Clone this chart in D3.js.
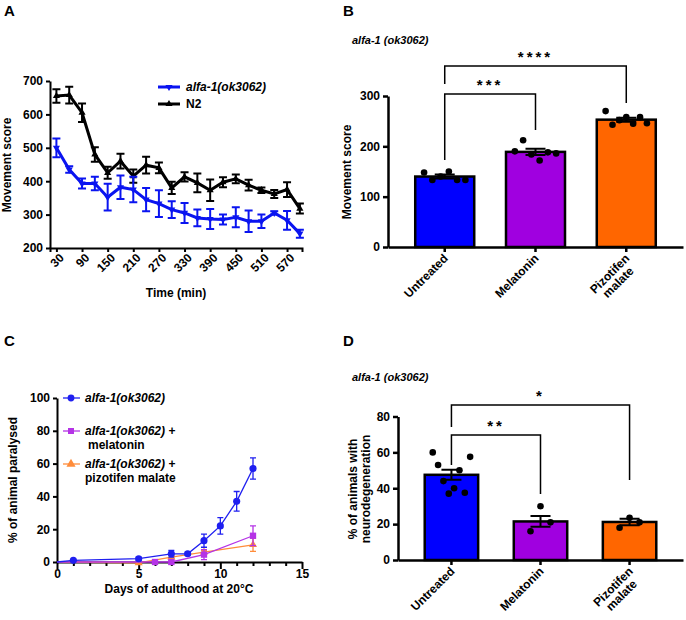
<!DOCTYPE html>
<html><head><meta charset="utf-8">
<script src="https://cdn.jsdelivr.net/npm/d3@7"></script>
<style>
body{margin:0;background:#fff}
text{font-family:"Liberation Sans",Arial,sans-serif;font-weight:bold}
</style></head>
<body><svg id="fig" width="686" height="620"></svg>
<script>
// panel A data
var timesA = d3.range(30, 601, 30)
var n2Mean = [655,658,605,480,425,460,415,448,440,380,413,395,373,397,407,388,373,362,375,318]
var n2Err = [20,25,28,22,18,22,20,25,16,18,14,28,32,15,13,16,8,12,22,15]
var alfaMean = [500,435,393,393,352,382,375,345,333,315,305,290,287,285,292,280,280,305,283,243]
var alfaErr = [28,10,15,20,40,35,38,35,40,25,30,25,30,15,30,32,20,5,28,12]
var ticksA = [30,90,150,210,270,330,390,450,510,570]

// panel B data
var groups = ["Untreated", "Melatonin", "Pizotifen malate"]
var colors = ["#0000ff", "#a000e0", "#ff6600"]
var bMean = [140, 189, 253]
var bErr = [4, 6, 4]
var bDots = [[148,133,140,150,133,133],[190,212,184,172,188,186],[270,243,252,258,245,258,246]]

// panel C data
var cAlfa = [[0,0],[1,1],[5,2],[7,5],[8,5],[9,13],[10,22],[11,37],[12,57]]
var cAlfaErr = [0,0.5,1,2,1,4,5,6,6.5]
var cMel = [[0,0],[6,0],[7,0],[9,4.5],[12,16]]
var cMelErr = [0,0.5,1,3,6]
var cPiz = [[0,0],[5,-0.5],[7,3],[9,6],[12,10.5]]
var cPizErr = [0,0.5,1,1,4]

// panel D data
var dMean = [47.5, 21.5, 21.2]
var dErr = [2.8, 3, 1.8]
var dDots = [[60,53,44,37,40,50,37.5,57.5],[16,30,21],[18,23.5,21]]

var svg = d3.select("#fig")

function label(t, x, y) {
  svg.append("text").attr("x", x).attr("y", y).attr("font-size", 15).text(t)
}
label("A", 4, 16); label("B", 343, 16); label("C", 4, 346); label("D", 343, 346)

// ---------- panel A ----------
var xA = d3.scaleLinear().domain([15, 605]).range([50, 302])
var yA = d3.scaleLinear().domain([200, 700]).range([248, 81])
var gA = svg.append("g")
gA.append("g").attr("transform", "translate(0,248)")
  .call(d3.axisBottom(xA).tickValues(ticksA).tickSizeOuter(0).tickSize(4))
  .call(g => g.selectAll("text").attr("font-size", 12).attr("text-anchor", "end")
    .attr("transform", "rotate(-45)").attr("dx", "-2").attr("dy", "6"))
gA.append("g").attr("transform", "translate(50,0)")
  .call(d3.axisLeft(yA).ticks(5).tickSize(4).tickSizeOuter(0))
  .call(g => g.selectAll("text").attr("font-size", 12))
gA.selectAll(".domain,.tick line").attr("stroke", "#000").attr("stroke-width", 2)
svg.append("text").attr("x", 176).attr("y", 297).attr("text-anchor", "middle").attr("font-size", 12).text("Time (min)")
svg.append("text").attr("transform", "translate(11,165) rotate(-90)").attr("text-anchor", "middle").attr("font-size", 12).text("Movement score")

function seriesA(mean, err, col, sym) {
  var pts = timesA.map((t, i) => [t, mean[i], err[i]])
  gA.selectAll(null).data(pts).enter().append("path")
    .attr("d", d => "M" + (xA(d[0]) - 4) + "," + yA(d[1] + d[2]) + "h8M" + xA(d[0]) + "," + yA(d[1] + d[2]) +
      "V" + yA(d[1] - d[2]) + "M" + (xA(d[0]) - 4) + "," + yA(d[1] - d[2]) + "h8")
    .attr("stroke", col).attr("stroke-width", 2).attr("fill", "none")
  gA.append("path").datum(pts).attr("d", d3.line().x(d => xA(d[0])).y(d => yA(d[1])))
    .attr("stroke", col).attr("stroke-width", 3).attr("fill", "none")
  gA.selectAll(null).data(pts).enter().append("path")
    .attr("transform", d => "translate(" + xA(d[0]) + "," + yA(d[1]) + ")" + (sym == "down" ? " rotate(180)" : ""))
    .attr("d", d3.symbol(d3.symbolTriangle, 22)).attr("fill", col)
}
seriesA(n2Mean, n2Err, "#000", "up")
seriesA(alfaMean, alfaErr, "#0a14f0", "down")
// legend A
gA.append("line").attr("x1", 158).attr("x2", 180).attr("y1", 87).attr("y2", 87).attr("stroke", "#0a14f0").attr("stroke-width", 3)
gA.append("path").attr("transform", "translate(169,87) rotate(180)").attr("d", d3.symbol(d3.symbolTriangle, 22)).attr("fill", "#0a14f0")
gA.append("text").attr("x", 186).attr("y", 91).attr("font-size", 12).attr("font-style", "italic").text("alfa-1(ok3062)")
gA.append("line").attr("x1", 158).attr("x2", 180).attr("y1", 104).attr("y2", 104).attr("stroke", "#000").attr("stroke-width", 3)
gA.append("path").attr("transform", "translate(169,104)").attr("d", d3.symbol(d3.symbolTriangle, 22)).attr("fill", "#000")
gA.append("text").attr("x", 186).attr("y", 108).attr("font-size", 12).text("N2")

// ---------- bar panels ----------
function barPanel(o) {
  var g = svg.append("g")
  var x = d3.scaleBand().domain(groups).range([o.x0, o.x1]).paddingInner(o.pad).paddingOuter(o.padOut)
  var y = d3.scaleLinear().domain(o.dom).range([o.y0, o.yTop])
  g.append("g").attr("transform", "translate(0," + o.y0 + ")")
    .call(d3.axisBottom(x).tickSize(5).tickSizeOuter(0).tickFormat(""))
  g.append("g").attr("transform", "translate(" + o.x0 + ",0)")
    .call(d3.axisLeft(y).tickValues(o.ticks).tickSize(5).tickSizeOuter(0))
    .call(a => a.selectAll("text").attr("font-size", 12))
  g.selectAll(".domain,.tick line").attr("stroke", "#000").attr("stroke-width", 2.5)
  groups.forEach(function (grp, i) {
    var bx = x(grp), bw = x.bandwidth(), cx = bx + bw / 2
    g.append("rect").attr("x", bx).attr("y", y(o.mean[i])).attr("width", bw)
      .attr("height", o.y0 - y(o.mean[i])).attr("fill", colors[i]).attr("stroke", "#000").attr("stroke-width", 2.5)
    var hi = y(o.mean[i] + o.err[i]), lo = y(o.mean[i] - o.err[i])
    g.append("path").attr("d", "M" + (cx - 10) + "," + hi + "h20M" + cx + "," + hi + "V" + lo + "M" + (cx - 10) + "," + lo + "h20")
      .attr("stroke", "#000").attr("stroke-width", 2).attr("fill", "none")
    var n = o.dots[i].length, step = n > 3 ? (bw * 0.7) / (n - 1) : 10
    o.dots[i].forEach(function (v, k) {
      g.append("circle").attr("cx", cx + (k - (n - 1) / 2) * step).attr("cy", y(v)).attr("r", 3.3).attr("fill", "#000")
    })
    // tick labels
    var lines = grp == "Pizotifen malate" ? ["Pizotifen", "malate"] : [grp]
    var t = g.append("text").attr("transform", "translate(" + (cx + 4) + "," + (o.y0 + 12) + ") rotate(-45)")
      .attr("text-anchor", "end").attr("font-size", 12)
    lines.forEach((l, j) => t.append("tspan").attr("x", j ? -6 : 0).attr("dy", j ? 12 : 0).text(l))
  })
  // brackets
  o.brackets.forEach(function (b) {
    var xa = x(groups[0]) + x.bandwidth() / 2, xb = x(groups[b.to]) + x.bandwidth() / 2
    g.append("path").attr("d", "M" + xa + "," + b.l + "V" + b.top + "H" + xb + "V" + b.r)
      .attr("stroke", "#000").attr("stroke-width", 1.5).attr("fill", "none")
    g.append("text").attr("x", (xa + xb) / 2).attr("y", b.top - 4).attr("text-anchor", "middle")
      .attr("font-size", 15).attr("letter-spacing", 3).text(b.s)
  })
  g.append("text").attr("x", 352).attr("y", o.titleY).attr("font-size", 11).attr("font-style", "italic").text("alfa-1 (ok3062)")
  return g
}

barPanel({x0: 388, x1: 683, y0: 247, yTop: 96, dom: [0, 300], ticks: [0, 100, 200, 300], pad: 0.35, padOut: 0.3,
  mean: bMean, err: bErr, dots: bDots, titleY: 44,
  brackets: [{to: 1, top: 94, l: 160, r: 130, s: "***"}, {to: 2, top: 66, l: 84, r: 103, s: "****"}]})
svg.append("text").attr("transform", "translate(351,172) rotate(-90)").attr("text-anchor", "middle").attr("font-size", 12).text("Movement score")

barPanel({x0: 398, x1: 683, y0: 560, yTop: 416.5, dom: [0, 80], ticks: [0, 20, 40, 60, 80], pad: 0.4, padOut: 0.3,
  mean: dMean, err: dErr, dots: dDots, titleY: 381,
  brackets: [{to: 1, top: 435, l: 465, r: 494, s: "**"}, {to: 2, top: 405, l: 427, r: 480, s: "*"}]})
svg.append("text").attr("transform", "translate(357,489) rotate(-90)").attr("text-anchor", "middle").attr("font-size", 12)
  .call(t => { t.append("tspan").attr("x", 0).attr("dy", 0).text("% of animals with"); t.append("tspan").attr("x", 0).attr("dy", 13).text("neurodegeneration") })

// ---------- panel C ----------
var xC = d3.scaleLinear().domain([0, 15]).range([57, 302])
var yC = d3.scaleLinear().domain([0, 100]).range([562, 398])
var gC = svg.append("g")
gC.append("g").attr("transform", "translate(0,562)")
  .call(d3.axisBottom(xC).ticks(15).tickSize(4).tickSizeOuter(0).tickFormat(d => d % 5 ? "" : d))
  .call(g => g.selectAll(".tick").filter(d => d % 5 == 0).select("line").attr("y2", 7))
  .call(g => g.selectAll("text").attr("font-size", 12))
gC.append("g").attr("transform", "translate(57,0)")
  .call(d3.axisLeft(yC).ticks(5).tickSize(4).tickSizeOuter(0))
  .call(g => g.selectAll("text").attr("font-size", 12))
gC.selectAll(".domain,.tick line").attr("stroke", "#000").attr("stroke-width", 2)
svg.append("text").attr("x", 179).attr("y", 593).attr("text-anchor", "middle").attr("font-size", 12).text("Days of adulthood at 20°C")
svg.append("text").attr("transform", "translate(17,480) rotate(-90)").attr("text-anchor", "middle").attr("font-size", 12).text("% of animal paralysed")

function seriesC(pts, err, col, sym, size) {
  gC.selectAll(null).data(pts.map((p, i) => [p[0], p[1], err[i]]).filter(d => d[0] > 0)).enter().append("path")
    .attr("d", d => "M" + (xC(d[0]) - 3) + "," + yC(d[1] + d[2]) + "h6M" + xC(d[0]) + "," + yC(d[1] + d[2]) +
      "V" + yC(d[1] - d[2]) + "M" + (xC(d[0]) - 3) + "," + yC(d[1] - d[2]) + "h6")
    .attr("stroke", col).attr("stroke-width", 1.3).attr("fill", "none")
  gC.append("path").datum(pts).attr("d", d3.line().x(d => xC(d[0])).y(d => yC(d[1])))
    .attr("stroke", col).attr("stroke-width", 1.3).attr("fill", "none")
  gC.selectAll(null).data(pts.filter(d => d[0] > 0)).enter().append("path")
    .attr("transform", d => "translate(" + xC(d[0]) + "," + yC(d[1]) + ")")
    .attr("d", d3.symbol(sym, size)).attr("fill", col)
}
seriesC(cPiz, cPizErr, "#ff8c3a", d3.symbolTriangle, 28)
seriesC(cMel, cMelErr, "#b533e6", d3.symbolSquare, 40)
seriesC(cAlfa, cAlfaErr, "#1f1ff0", d3.symbolCircle, 40)

var leg = [["#1f1ff0", d3.symbolCircle, ["alfa-1(ok3062)"]],
  ["#b533e6", d3.symbolSquare, ["alfa-1(ok3062) +", "melatonin"]],
  ["#ff8c3a", d3.symbolTriangle, ["alfa-1(ok3062) +", "pizotifen malate"]]]
leg.forEach(function (l, i) {
  var ly = 398 + i * 33
  gC.append("line").attr("x1", 63).attr("x2", 80).attr("y1", ly).attr("y2", ly).attr("stroke", l[0]).attr("stroke-width", 1.3)
  gC.append("path").attr("transform", "translate(71," + ly + ")").attr("d", d3.symbol(l[1], 36)).attr("fill", l[0])
  gC.append("text").attr("x", 85).attr("y", ly + 4).attr("font-size", 12).attr("font-style", "italic").text(l[2][0].replace(" +", ""))
    .append("tspan").attr("font-style", "normal").text(l[2][0].indexOf("+") > 0 ? " +" : "")
  if (l[2][1]) gC.append("text").attr("x", l[2][1] == "melatonin" ? 88 : 85).attr("y", ly + 18).attr("font-size", 12).text(l[2][1])
})
</script></body></html>
